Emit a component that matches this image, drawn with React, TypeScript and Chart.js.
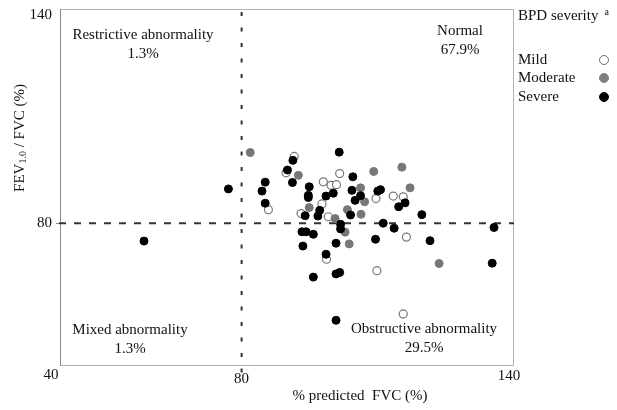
import React, { useEffect, useRef } from "react";
import { Chart, registerables } from "chart.js";

Chart.register(...registerables);

// ---- data ----
const xTicks = [40, 80, 140];
const yTicks = [40, 80, 140];
const cutoffFVC = 80;
const cutoffRatio = 80;

const mildFVC = [85.9, 91.6, 89.8, 101.6, 98.0, 99.7, 100.9, 97.7, 93.1, 99.1, 109.6, 113.4, 115.6, 116.3, 98.7, 109.8, 115.6];
const mildRatio = [83.8, 98.7, 94.1, 93.9, 91.6, 90.6, 90.8, 85.4, 82.7, 81.8, 86.9, 87.6, 87.4, 76.1, 69.9, 66.7, 54.6];

const moderateFVC = [81.9, 92.5, 109.1, 115.3, 117.1, 94.9, 100.6, 106.2, 107.1, 103.3, 106.3, 102.8, 103.7, 123.5];
const moderateRatio = [99.8, 93.4, 94.5, 95.7, 89.9, 84.4, 81.3, 89.9, 86.0, 83.8, 82.5, 77.5, 74.2, 68.7];

const severeFVC = [77.1, 85.2, 84.5, 85.2, 58.5, 91.3, 90.1, 91.2, 101.5, 104.5, 94.9, 94.7, 94.7, 98.6, 100.2, 97.2, 94.0, 96.8, 104.3, 106.2, 105.0, 104.0, 110.0, 110.6, 116.0, 114.6, 119.7, 101.8, 101.8, 93.3, 94.2, 95.8, 111.2, 113.6, 121.5, 135.6, 93.5, 100.8, 109.5, 98.6, 135.2, 95.8, 100.8, 101.6, 100.8];
const severeRatio = [89.6, 91.5, 89.0, 85.6, 75.0, 97.6, 94.9, 91.4, 99.9, 93.0, 90.2, 87.8, 87.2, 87.6, 88.4, 83.6, 82.1, 82.0, 89.2, 87.7, 86.4, 82.3, 89.0, 89.4, 85.7, 84.6, 82.4, 79.7, 78.4, 77.6, 77.6, 76.9, 80.0, 78.6, 75.1, 78.8, 73.6, 74.4, 75.5, 71.3, 68.8, 64.9, 65.8, 66.2, 52.8];

const severityNames = ["Mild", "Moderate", "Severe"];
const quadrantNames = ["Restrictive abnormality", "Normal", "Mixed abnormality", "Obstructive abnormality"];
const quadrantPercents = ["1.3%", "67.9%", "1.3%", "29.5%"];
const xTitle = "% predicted  FVC (%)";
const legendTitle = "BPD severity";

const FONT = '"Liberation Serif", "Times New Roman", serif';

function toPoints(xs: number[], ys: number[]) {
  return xs.map((x, i) => ({ x, y: ys[i] }));
}

const overlayPlugin = {
  id: "overlay",
  beforeDatasetsDraw(chart: any) {
    const { ctx, chartArea } = chart;
    const xs = chart.scales.x;
    const ys = chart.scales.y;
    ctx.save();
    // frame
    ctx.strokeStyle = "#b4b4b4";
    ctx.lineWidth = 1;
    ctx.strokeRect(chartArea.left + 0.5, chartArea.top + 0.5, chartArea.right - chartArea.left - 1, chartArea.bottom - chartArea.top - 1);
    // left axis line
    ctx.strokeStyle = "#8c8c8c";
    ctx.beginPath();
    ctx.moveTo(chartArea.left + 0.5, chartArea.top);
    ctx.lineTo(chartArea.left + 0.5, chartArea.bottom);
    ctx.stroke();
    // tick at cutoff
    const ty = Math.round(ys.getPixelForValue(cutoffRatio)) + 0.5;
    ctx.beginPath();
    ctx.moveTo(chartArea.left - 4, ty);
    ctx.lineTo(chartArea.left, ty);
    ctx.stroke();
    // dashed cutoff lines
    ctx.strokeStyle = "#333";
    ctx.lineWidth = 2;
    const vx = xs.getPixelForValue(cutoffFVC);
    ctx.setLineDash([4, 11.5]);
    ctx.beginPath();
    ctx.moveTo(vx, chartArea.top + 3);
    ctx.lineTo(vx, chartArea.bottom + 8);
    ctx.stroke();
    const hy = ys.getPixelForValue(cutoffRatio);
    ctx.setLineDash([7, 8]);
    ctx.beginPath();
    ctx.moveTo(chartArea.left - 1, hy);
    ctx.lineTo(chartArea.right, hy);
    ctx.stroke();
    ctx.restore();
  },
  afterDraw(chart: any) {
    const { ctx, chartArea } = chart;
    const xs = chart.scales.x;
    const ys = chart.scales.y;
    ctx.save();
    ctx.fillStyle = "#111";
    ctx.font = `15px ${FONT}`;
    ctx.textBaseline = "middle";

    // y tick labels
    ctx.textAlign = "right";
    yTicks.forEach((v) => {
      if (v === yTicks[0]) return; // shared origin label drawn with x ticks
      const py = ys.getPixelForValue(v);
      const off = v === yTicks[yTicks.length - 1] ? 6 : 0;
      ctx.fillText(String(v), chartArea.left - 8, py + off);
    });
    // x tick labels
    ctx.textAlign = "center";
    xTicks.forEach((v, i) => {
      const px = xs.getPixelForValue(v);
      const dx = i === 0 ? -9 : i === 1 ? 0 : -5;
      const dy = i === 0 ? 9 : i === 1 ? 13 : 10;
      ctx.fillText(String(v), px + dx, chartArea.bottom + dy);
    });

    // axis titles
    ctx.fillText(xTitle, 360, 396);

    ctx.save();
    ctx.translate(20, 138);
    ctx.rotate(-Math.PI / 2);
    const big = `15px ${FONT}`;
    const small = `10px ${FONT}`;
    const p1 = "FEV", p2 = "1.0", p3 = " / FVC (%)";
    ctx.font = big;
    const w1 = ctx.measureText(p1).width;
    const w3 = ctx.measureText(p3).width;
    ctx.font = small;
    const w2 = ctx.measureText(p2).width;
    let sx = -(w1 + w2 + w3) / 2;
    ctx.textAlign = "left";
    ctx.font = big;
    ctx.fillText(p1, sx, 0);
    sx += w1;
    ctx.font = small;
    ctx.fillText(p2, sx, 3);
    sx += w2;
    ctx.font = big;
    ctx.fillText(p3, sx, 0);
    ctx.restore();

    // quadrant labels
    ctx.textAlign = "center";
    ctx.font = `15px ${FONT}`;
    const qx = [143, 460, 130, 424];
    const qy = [35, 31, 330, 329];
    quadrantNames.forEach((n, i) => {
      ctx.fillText(n, qx[i], qy[i]);
      ctx.fillText(quadrantPercents[i], qx[i], qy[i] + 19);
    });

    // legend
    ctx.textAlign = "left";
    ctx.fillText(legendTitle, 518, 16);
    const tw = ctx.measureText(legendTitle).width;
    ctx.font = `10px ${FONT}`;
    ctx.fillText("a", 518 + tw + 6, 12);
    ctx.font = `15px ${FONT}`;
    const ly = [60, 78, 97];
    const fills = ["#ffffff", "#808080", "#000000"];
    const strokes = ["#6e6e6e", "#808080", "#000000"];
    severityNames.forEach((n, i) => {
      ctx.fillStyle = "#111";
      ctx.fillText(n, 518, ly[i]);
      ctx.beginPath();
      ctx.arc(604, ly[i], 4.5, 0, Math.PI * 2);
      ctx.fillStyle = fills[i];
      ctx.fill();
      ctx.lineWidth = 1;
      ctx.strokeStyle = strokes[i];
      ctx.stroke();
    });
    ctx.restore();
  },
};

export default function App() {
  const ref = useRef<HTMLCanvasElement | null>(null);
  useEffect(() => {
    if (!ref.current) return;
    const chart = new Chart(ref.current, {
      type: "scatter",
      data: {
        datasets: [
          {
            label: severityNames[2],
            data: toPoints(severeFVC, severeRatio),
            pointRadius: 4,
            pointBackgroundColor: "#000000",
            pointBorderColor: "#000000",
            pointBorderWidth: 1,
          },
          {
            label: severityNames[1],
            data: toPoints(moderateFVC, moderateRatio),
            pointRadius: 4,
            pointBackgroundColor: "#777777",
            pointBorderColor: "#777777",
            pointBorderWidth: 1,
          },
          {
            label: severityNames[0],
            data: toPoints(mildFVC, mildRatio),
            pointRadius: 4,
            pointBackgroundColor: "#ffffff",
            pointBorderColor: "#777777",
            pointBorderWidth: 1.2,
          },
        ],
      },
      options: {
        responsive: false,
        animation: false,
        devicePixelRatio: 1,
        layout: { padding: { left: 60, top: 9, right: 103, bottom: 44 } },
        scales: {
          x: { type: "linear", min: xTicks[0], max: xTicks[xTicks.length - 1], display: false },
          y: { type: "linear", min: yTicks[0], max: yTicks[yTicks.length - 1], display: false },
        },
        plugins: {
          legend: { display: false },
          tooltip: { enabled: false },
        },
      },
      plugins: [overlayPlugin],
    });
    return () => chart.destroy();
  }, []);
  return (
    <div style={{ position: "fixed", left: 0, top: 0, width: 617, height: 410, background: "#fff" }}>
      <canvas ref={ref} width={617} height={410} />
    </div>
  );
}
